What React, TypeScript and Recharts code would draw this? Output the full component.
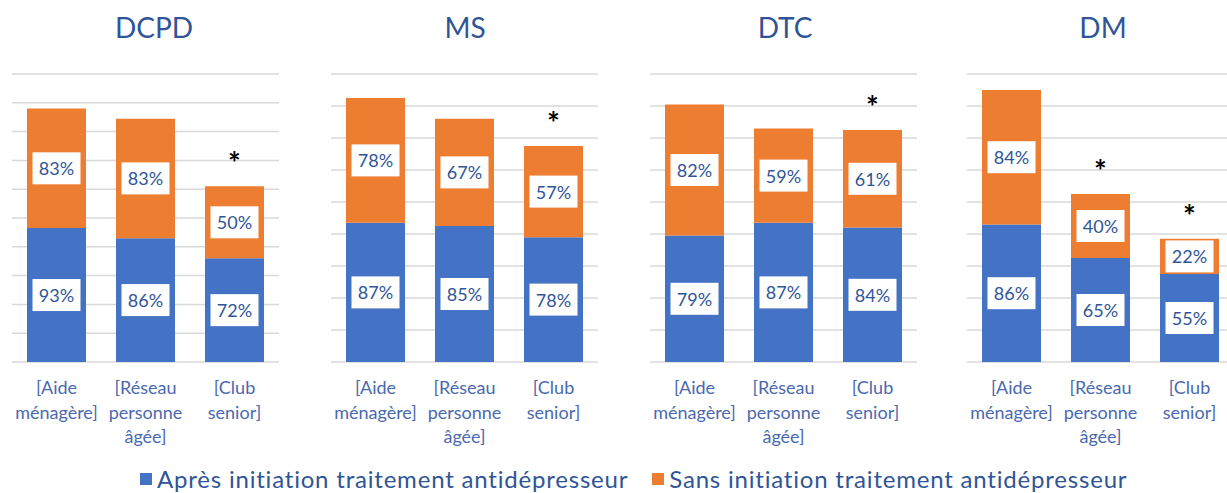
import React from 'react'
import { BarChart, Bar, XAxis, YAxis, CartesianGrid, LabelList } from 'recharts'

const CATEGORIES = ['[Aide ménagère]', '[Réseau personne âgée]', '[Club senior]']

const DCPD_APRES = [93, 86, 72]
const DCPD_SANS = [83, 83, 50]
const DCPD_SIG = [false, false, true]

const MS_APRES = [87, 85, 78]
const MS_SANS = [78, 67, 57]
const MS_SIG = [false, false, true]

const DTC_APRES = [79, 87, 84]
const DTC_SANS = [82, 59, 61]
const DTC_SIG = [false, false, true]

const DM_APRES = [86, 65, 55]
const DM_SANS = [84, 40, 22]
const DM_SIG = [false, true, true]

const TICKS_200 = [0, 20, 40, 60, 80, 100, 120, 140, 160, 180, 200]
const TICKS_180 = [0, 20, 40, 60, 80, 100, 120, 140, 160, 180]

const BLUE = '#4472C4'
const ORANGE = '#ED7D31'
const TEXT = '#2F5597'
const FONT = 'Lato, "Open Sans", sans-serif'

const buildRows = (apres: number[], sans: number[], sig: boolean[]) =>
  CATEGORIES.map((c, i) => ({ cat: c, apres: apres[i], sans: sans[i], sig: sig[i] }))

const PANELS = [
  { title: 'DCPD', rows: buildRows(DCPD_APRES, DCPD_SANS, DCPD_SIG), ticks: TICKS_200, left: 12, titleX: 154 },
  { title: 'MS', rows: buildRows(MS_APRES, MS_SANS, MS_SIG), ticks: TICKS_180, left: 331, titleX: 465 },
  { title: 'DTC', rows: buildRows(DTC_APRES, DTC_SANS, DTC_SIG), ticks: TICKS_180, left: 650, titleX: 785 },
  { title: 'DM', rows: buildRows(DM_APRES, DM_SANS, DM_SIG), ticks: TICKS_180, left: 967, titleX: 1103 },
]

const BoxLabel = (props: any) => {
  const { x, y, width, height, value } = props
  const cx = x + width / 2
  const cy = y + height / 2
  return (
    <g>
      <rect x={cx - 24} y={cy - 16} width={48} height={32} fill="#fff" />
      <text x={cx} y={cy} textAnchor="middle" dominantBaseline="central" fill={TEXT} fontSize={18} fontFamily={FONT}>
        {value}%
      </text>
    </g>
  )
}

const makeStar = (rows: any[]) => (props: any) => {
  const { x, y, width, index } = props
  if (!rows[index]?.sig) return null
  return (
    <text x={x + width / 2} y={y - 12} textAnchor="middle" fill="#000" fontSize={30} fontWeight="bold" fontFamily={FONT}>
      *
    </text>
  )
}

const CatTick = (props: any) => {
  const { x, y, payload } = props
  const words = String(payload.value).split(' ')
  return (
    <text x={x} y={y} textAnchor="middle" fill="#4A69AE" fontSize={18} fontFamily={FONT}>
      {words.map((w, i) => (
        <tspan key={i} x={x} dy={i === 0 ? 24 : 24.5}>
          {w}
        </tspan>
      ))}
    </text>
  )
}

export default function App() {
  return (
    <div style={{ position: 'absolute', left: 0, top: 0, width: 1227, height: 493, background: '#fff', overflow: 'hidden', fontFamily: FONT }}>
      {PANELS.map((p) => (
        <React.Fragment key={p.title}>
          <div style={{ position: 'absolute', top: 10, left: p.titleX - 80, width: 160, textAlign: 'center', fontSize: 28, color: TEXT }}>
            {p.title}
          </div>
          <div style={{ position: 'absolute', left: p.left, top: 0 }}>
            <BarChart width={267} height={460} data={p.rows} margin={{ top: 74, right: 0, bottom: 0, left: 0 }} barSize={59}>
              <CartesianGrid vertical={false} stroke="#D9D9D9" strokeWidth={1.5} />
              <XAxis dataKey="cat" tick={<CatTick />} tickLine={false} axisLine={false} height={98} interval={0} />
              <YAxis hide domain={[0, p.ticks[p.ticks.length - 1]]} ticks={p.ticks} />
              <Bar dataKey="apres" stackId="a" fill={BLUE} isAnimationActive={false}>
                <LabelList dataKey="apres" content={<BoxLabel />} />
              </Bar>
              <Bar dataKey="sans" stackId="a" fill={ORANGE} isAnimationActive={false}>
                <LabelList dataKey="sans" content={<BoxLabel />} />
                <LabelList dataKey="sans" content={makeStar(p.rows)} />
              </Bar>
            </BarChart>
          </div>
        </React.Fragment>
      ))}
      <div style={{ position: 'absolute', top: 464, left: 140, display: 'flex', alignItems: 'center', fontSize: 24, letterSpacing: 0.8, color: TEXT, whiteSpace: 'nowrap' }}>
        <span style={{ width: 12, height: 12, background: BLUE, display: 'inline-block', marginRight: 5 }} />
        <span>Après initiation traitement antidépresseur</span>
        <span style={{ width: 12, height: 12, background: ORANGE, display: 'inline-block', marginLeft: 24, marginRight: 5 }} />
        <span>Sans initiation traitement antidépresseur</span>
      </div>
    </div>
  )
}
